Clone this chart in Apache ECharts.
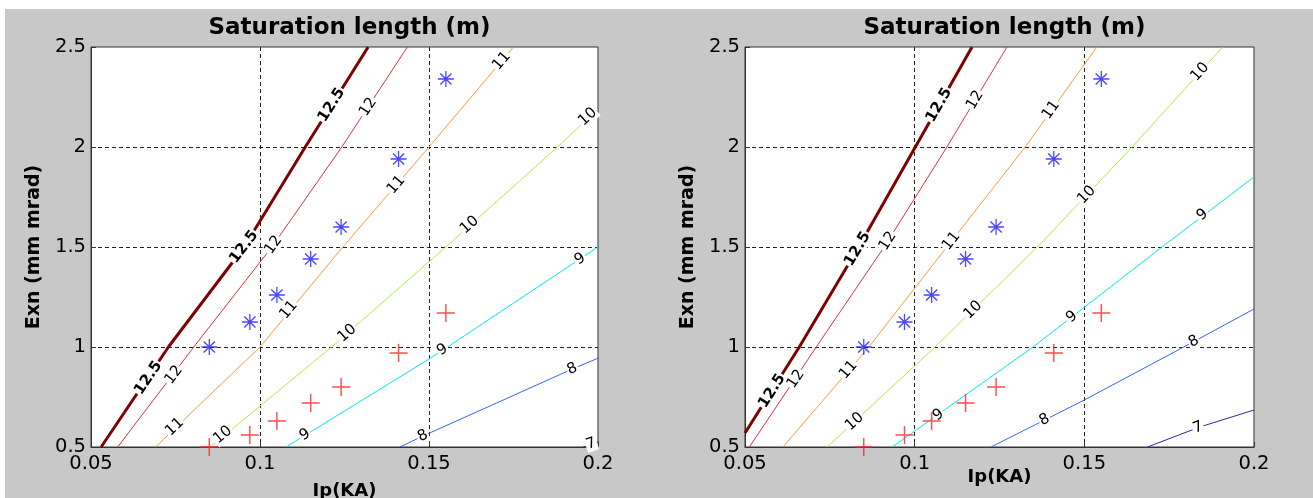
<!DOCTYPE html>
<html>
<head>
<meta charset="utf-8">
<script src="https://cdn.jsdelivr.net/npm/echarts@6/dist/echarts.min.js"></script>
<style>
  html, body { margin: 0; padding: 0; background: #fff; }
  #chart { width: 1313px; height: 498px; }
</style>
</head>
<body>
<div id="chart"></div>
<script>
// Beam working points (Ip in kA, normalised emittance in mm mrad), same in both panels
const beamIp   = [0.085, 0.097, 0.105, 0.115, 0.124, 0.141, 0.155];
const exnStar  = [1.0, 1.125, 1.26, 1.44, 1.6, 1.94, 2.34];
const exnPlus  = [0.5, 0.56, 0.63, 0.72, 0.8, 0.97, 1.17];

// Contour levels of saturation length (m)
const levels = ['12.5', '12', '11', '10', '9', '8', '7'];

// Left panel contours: [Ip, Exn] along each level
const left125 = [[0.053, 0.5], [0.0729, 1.0], [0.0953, 1.5], [0.1134, 2.0], [0.132, 2.5]];
const left12  = [[0.0579, 0.5], [0.0804, 1.0], [0.1035, 1.5], [0.1242, 2.0], [0.1436, 2.5]];
const left11  = [[0.0691, 0.5], [0.1, 1.0], [0.1245, 1.5], [0.15, 2.0], [0.175, 2.5]];
const left10  = [[0.0853, 0.5], [0.1212, 1.0], [0.155, 1.5], [0.188, 2.0], [0.2, 2.19]];
const left9   = [[0.1077, 0.5], [0.1207, 0.635], [0.15, 0.94], [0.1555, 1.0], [0.2, 1.5]];
const left8   = [[0.1414, 0.5], [0.1482, 0.555], [0.17, 0.72], [0.1924, 0.89], [0.2, 0.944]];
const left7   = [[0.1956, 0.5], [0.2, 0.527]];

// Right panel contours
const right125 = [[0.05, 0.57], [0.066, 1.0], [0.0835, 1.5], [0.1002, 2.0], [0.1169, 2.5]];
const right12  = [[0.0513, 0.5], [0.071, 1.0], [0.091, 1.5], [0.1095, 2.0], [0.1272, 2.5]];
const right11  = [[0.0612, 0.5], [0.0865, 1.0], [0.1095, 1.5], [0.1326, 2.0], [0.1537, 2.5]];
const right10  = [[0.0742, 0.5], [0.106, 1.0], [0.1362, 1.5], [0.1641, 2.0], [0.1908, 2.5]];
const right9   = [[0.0934, 0.5], [0.1349, 1.0], [0.1729, 1.5], [0.2, 1.85]];
const right8   = [[0.1225, 0.5], [0.15, 0.735], [0.1793, 1.0], [0.2, 1.19]];
const right7   = [[0.1686, 0.5], [0.184, 0.6], [0.2, 0.685]];

// Inline contour labels: [Ip, Exn, level index]
const leftLabels = [
  [0.067, 0.845, 0], [0.0953, 1.5, 0], [0.1212, 2.21, 0],
  [0.0745, 0.86, 1], [0.104, 1.51, 1], [0.132, 2.2, 1],
  [0.0748, 0.6, 2], [0.1085, 1.185, 2], [0.1403, 1.81, 2], [0.1715, 2.43, 2],
  [0.089, 0.56, 3], [0.1258, 1.068, 3], [0.162, 1.61, 3], [0.197, 2.15, 3],
  [0.1133, 0.56, 4], [0.154, 0.985, 4], [0.1947, 1.44, 4],
  [0.1482, 0.555, 5], [0.1924, 0.89, 5],
  [0.198, 0.515, 6]
];
const rightLabels = [
  [0.058, 0.78, 0], [0.0832, 1.49, 0], [0.1072, 2.21, 0],
  [0.065, 0.84, 1], [0.0921, 1.53, 1], [0.1178, 2.235, 1],
  [0.0805, 0.885, 2], [0.1108, 1.53, 2], [0.1402, 2.185, 2],
  [0.0823, 0.627, 3], [0.1172, 1.185, 3], [0.1507, 1.76, 3], [0.1841, 2.375, 3],
  [0.107, 0.66, 4], [0.1463, 1.15, 4], [0.1848, 1.66, 4],
  [0.1383, 0.635, 5], [0.1823, 1.027, 5],
  [0.1835, 0.597, 6]
];

const leftContours  = [left125, left12, left11, left10, left9, left8, left7];
const rightContours = [right125, right12, right11, right10, right9, right8, right7];

const levelColors = ['#800000', '#e0303c', '#ff9a3c', '#aaee44', '#00e8f0', '#3366ff', '#2a2a9a'];
const levelWidths = [3, 1, 1, 1, 1, 1, 1];

const FONT = '"DejaVu Sans", Verdana, sans-serif';

// marker glyphs built from thin bars
const PLUS = 'path://M0,9.2H20V10.8H0Z M9.2,0H10.8V20H9.2Z';
const STAR = 'path://M0,9.2H20V10.8H0Z M9.2,0H10.8V20H9.2Z ' +
  'M3.6,2.4L17.6,16.4L16.4,17.6L2.4,3.6Z ' +
  'M2.4,16.4L16.4,2.4L17.6,3.6L3.6,17.6Z M8.6,8.6H11.4V11.4H8.6Z';

const chart = echarts.init(document.getElementById('chart'), null, { renderer: 'canvas' });

const grids = [
  { left: 91, top: 47, width: 507, height: 400 },
  { left: 745, top: 47, width: 509, height: 400 }
];

function distToSeg(p, a, b) {
  const dx = b[0] - a[0], dy = b[1] - a[1];
  const len2 = dx * dx + dy * dy || 1;
  let t = ((p[0] - a[0]) * dx + (p[1] - a[1]) * dy) / len2;
  t = Math.max(0, Math.min(1, t));
  const qx = a[0] + t * dx - p[0], qy = a[1] + t * dy - p[1];
  return Math.sqrt(qx * qx + qy * qy);
}

function contourSeries(gi, contours) {
  return contours.map((pts, k) => ({
    type: 'line',
    xAxisIndex: gi, yAxisIndex: gi,
    data: pts,
    symbol: 'none',
    clip: true,
    silent: true,
    z: 3,
    lineStyle: { color: levelColors[k], width: levelWidths[k] }
  }));
}

// level labels set inline along each contour, turned to follow the local slope
function labelSeries(gi, contours, labels) {
  return {
    type: 'custom',
    xAxisIndex: gi, yAxisIndex: gi,
    data: labels,
    encode: { x: 0, y: 1 },
    silent: true,
    z: 4,
    renderItem: function (params, api) {
      const lv = api.value(2);
      const p = api.coord([api.value(0), api.value(1)]);
      const pts = contours[lv].map(q => api.coord(q));
      let best = Infinity, ang = 0;
      for (let i = 0; i < pts.length - 1; i++) {
        const a = pts[i], b = pts[i + 1];
        const d = distToSeg(p, a, b);
        if (d < best) { best = d; ang = Math.atan2(-(b[1] - a[1]), b[0] - a[0]); }
      }
      if (ang > Math.PI / 2) ang -= Math.PI;
      if (ang <= -Math.PI / 2) ang += Math.PI;
      return {
        type: 'text',
        x: p[0], y: p[1],
        rotation: ang,
        style: {
          text: levels[lv],
          fill: '#000',
          font: (lv === 0 ? 'bold ' : '') + '15px ' + FONT,
          align: 'center',
          verticalAlign: 'middle',
          backgroundColor: '#fff',
          padding: [0, 1]
        }
      };
    }
  };
}

function markerSeries(gi) {
  return [
    {
      type: 'scatter', xAxisIndex: gi, yAxisIndex: gi,
      data: beamIp.map((x, i) => [x, exnStar[i]]),
      symbol: STAR, symbolSize: 16, z: 6, silent: true,
      itemStyle: { color: '#1a1aff' }
    },
    {
      type: 'scatter', xAxisIndex: gi, yAxisIndex: gi,
      data: beamIp.map((x, i) => [x, exnPlus[i]]),
      symbol: PLUS, symbolSize: 18, z: 6, silent: true,
      itemStyle: { color: '#ff2020' }
    }
  ];
}

function xAxis(gi, nameGap) {
  return {
    type: 'value', gridIndex: gi,
    min: 0.05, max: 0.2, interval: 0.05,
    name: 'Ip(KA)', nameLocation: 'middle', nameGap: nameGap, nameMoveOverlap: false,
    nameTextStyle: { fontSize: 18, fontWeight: 'bold', color: '#000', fontFamily: FONT },
    axisLine: { show: true, lineStyle: { color: '#333', width: 1 } },
    axisTick: { show: true, inside: true, length: 5, lineStyle: { color: '#333' } },
    axisLabel: {
      fontSize: 19.5, color: '#000', margin: 7, fontFamily: FONT,
      showMinLabel: true, showMaxLabel: true, hideOverlap: false,
      formatter: v => String(+v.toFixed(2))
    },
    splitLine: {
      show: true, showMinLine: false, showMaxLine: false,
      lineStyle: { color: '#222', type: [4, 3], width: 1 }
    }
  };
}

function yAxis(gi) {
  return {
    type: 'value', gridIndex: gi,
    min: 0.5, max: 2.5, interval: 0.5,
    name: 'Exn (mm mrad)', nameLocation: 'middle', nameGap: 47, nameRotate: 90, nameMoveOverlap: false,
    nameTextStyle: { fontSize: 19, fontWeight: 'bold', color: '#000', fontFamily: FONT },
    axisLine: { show: true, lineStyle: { color: '#333', width: 1 } },
    axisTick: { show: true, inside: true, length: 5, lineStyle: { color: '#333' } },
    axisLabel: {
      fontSize: 19.5, color: '#000', margin: 5, fontFamily: FONT,
      showMinLabel: true, showMaxLabel: true, hideOverlap: false,
      formatter: v => String(+v.toFixed(2))
    },
    splitLine: {
      show: true, showMinLine: false, showMaxLine: false,
      lineStyle: { color: '#222', type: [4, 3], width: 1 }
    }
  };
}

const titleStyle = { fontSize: 23, fontWeight: 'bold', color: '#000', fontFamily: FONT };

const option = {
  animation: false,
  backgroundColor: '#c8c8c8',
  textStyle: { fontFamily: FONT },
  graphic: [
    { type: 'rect', left: 0, top: 0, shape: { width: 1313, height: 9 }, style: { fill: '#fff' }, silent: true },
    { type: 'rect', left: 0, top: 0, shape: { width: 5, height: 498 }, style: { fill: '#fff' }, silent: true }
  ],
  title: [
    { text: 'Saturation length (m)', left: grids[0].left + grids[0].width / 2, top: 12, textAlign: 'center', textStyle: titleStyle },
    { text: 'Saturation length (m)', left: grids[1].left + grids[1].width / 2, top: 12, textAlign: 'center', textStyle: titleStyle }
  ],
  grid: grids.map(g => Object.assign({
    show: true, backgroundColor: '#fff', borderColor: '#333', borderWidth: 1,
    containLabel: false, outerBoundsMode: 'none'
  }, g)),
  xAxis: [xAxis(0, 35), xAxis(1, 21)],
  yAxis: [yAxis(0), yAxis(1)],
  series: [].concat(
    contourSeries(0, leftContours),
    contourSeries(1, rightContours),
    [labelSeries(0, leftContours, leftLabels), labelSeries(1, rightContours, rightLabels)],
    markerSeries(0),
    markerSeries(1)
  )
};

chart.setOption(option);
</script>
</body>
</html>
